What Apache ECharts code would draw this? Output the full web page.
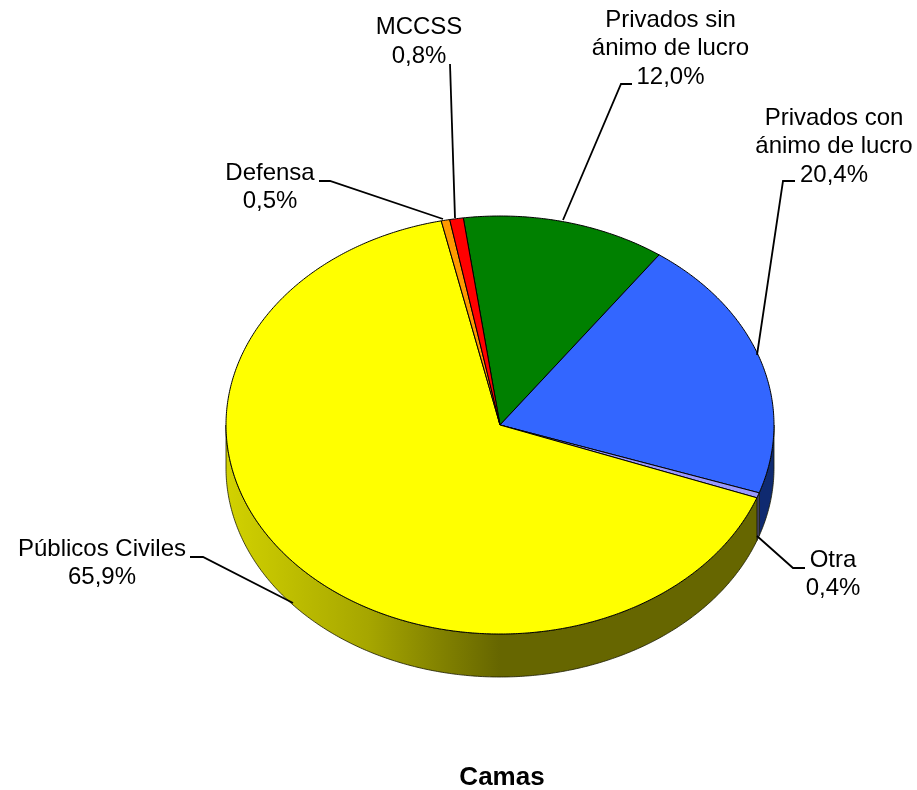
<!DOCTYPE html>
<html><head><meta charset="utf-8">
<style>html,body{margin:0;padding:0;background:#fff}#c{width:917px;height:790px}</style>
<script src="https://cdn.jsdelivr.net/npm/echarts@6/dist/echarts.min.js"></script>
</head><body><div id="c"></div>
<script>
// Data
const categories = ['Privados sin ánimo de lucro','Privados con ánimo de lucro','Otra','Públicos Civiles','Defensa','MCCSS'];
const values = [12.0, 20.4, 0.4, 65.9, 0.5, 0.8];
const labelTexts = ['Privados sin\nánimo de lucro\n12,0%','Privados con\nánimo de lucro\n20,4%','Otra\n0,4%','Públicos Civiles\n65,9%','Defensa\n0,5%','MCCSS\n0,8%'];
const titleText = 'Camas';

// Styling and layout (not data)
const colors = ['#008000','#3366ff','#9999ff','#ffff00','#ff9900','#ff0000'];
const labelCenters = [[670.5,48.5],[834,146.5],[833,574.5],[102,563.5],[270,187.5],[419,42]];
const leaders = [
  [[632,84],[621,84],[563,220]],
  [[795,181],[783,181],[757,355]],
  [[805,568],[793,568],[757,536]],
  [[190,557],[203,557],[293,603]],
  [[319,181],[330,181],[443,219]],
  [[450,64],[455,218]]
];
const CX=500, CY=425, RX=274, RY=209, DEPTH=43, START=-7.7;
const FONT='"Liberation Sans", Arial, sans-serif';

function ell(deg, dy){const a=deg*Math.PI/180;return [CX+RX*Math.sin(a), CY-RY*Math.cos(a)+(dy||0)];}
function arc(a,b,dy){const n=Math.max(2,Math.ceil(Math.abs(b-a)/0.5));const p=[];for(let i=0;i<=n;i++)p.push(ell(a+(b-a)*i/n,dy));return p;}
function sideFill(i){
  if(i===3) return new echarts.graphic.LinearGradient(CX-RX,0,CX+RX,0,[
    {offset:0,color:'#d2d200'},{offset:0.26,color:'#a6a600'},{offset:0.38,color:'#858500'},{offset:0.5,color:'#666600'},{offset:1,color:'#666600'}],true);
  if(i===1) return '#0f2a70';
  if(i===2) return '#4d4d80';
  return '#333';
}

const total = values.reduce((s,v)=>s+v,0);
const spans=[];let acc=START;
values.forEach(v=>{const d=v/total*360;spans.push([acc,acc+d]);acc+=d;});

function renderItem(params, api){
  const i=params.dataIndex;
  const a0=spans[i][0],a1=spans[i][1];
  const children=[];
  const s0=Math.max(a0,90),s1=Math.min(a1,270);
  if(s1>s0){
    const pts=arc(s0,s1,0).concat(arc(s1,s0,DEPTH));
    children.push({type:'polygon',shape:{points:pts},style:{fill:sideFill(i),stroke:'#1a1a00',lineWidth:0.8}});
  }
  children.push({type:'polygon',shape:{points:[[CX,CY]].concat(arc(a0,a1,0))},style:{fill:colors[i],stroke:'#000',lineWidth:1,lineJoin:'round'},z2:5});
  children.push({type:'polyline',shape:{points:leaders[i]},style:{fill:'none',stroke:'#000',lineWidth:1.8},z2:10});
  children.push({type:'text',x:labelCenters[i][0],y:labelCenters[i][1],z2:11,
    style:{text:labelTexts[i],fill:'#000',font:'24px '+FONT,align:'center',verticalAlign:'middle',lineHeight:28.5}});
  return {type:'group',children};
}

const chart=echarts.init(document.getElementById('c'),null,{renderer:'canvas'});
chart.setOption({
  animation:false,
  backgroundColor:'#fff',
  title:{text:titleText,left:497,top:760,textAlign:'center',textStyle:{fontFamily:FONT,fontSize:26,fontWeight:'bold',color:'#000'}},
  series:[{type:'custom',coordinateSystem:'none',silent:true,renderItem,clip:false,
    data:categories.map((n,i)=>({name:n,value:values[i]}))}]
});
</script></body></html>
